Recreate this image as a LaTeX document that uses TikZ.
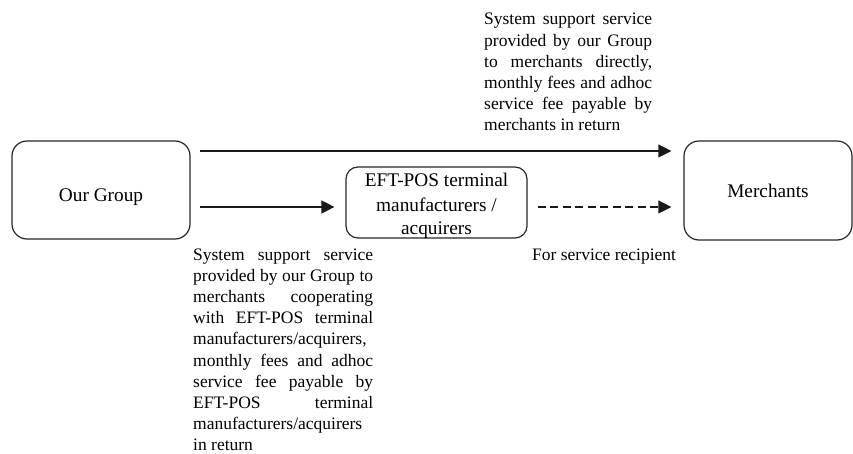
\documentclass[tikz,border=0pt]{standalone}
\usepackage{fontspec}
\setmainfont{Liberation Serif}
\usetikzlibrary{arrows.meta}

\tikzset{
  entity/.style={draw=black!85, line width=1.2pt, rounded corners=15pt,
    minimum width=178pt, minimum height=98pt, inner sep=0pt,
    font=\fontsize{19.3}{24}\selectfont, align=center},
  party/.style={entity, rounded corners=12pt, minimum width=181pt, minimum height=71pt},
  flow/.style={line width=1.2pt, draw=black!90, -{Triangle[length=13pt,width=13pt]}},
  note/.style={inner sep=0pt, font=\fontsize{17.5}{21.2}\selectfont,
    align=justify, anchor=base west},
  caption/.style={inner sep=0pt, font=\fontsize{17.5}{21.2}\selectfont, anchor=base west},
}

\begin{document}
\begin{tikzpicture}[x=1pt, y=-1pt]
  \useasboundingbox (0,0) rectangle (853,454);

  % parties (text height/depth place the baselines inside the boxes)
  \node[entity, text height=24pt, text depth=0pt] (og) at (101,190) {Our Group};
  \node[entity, minimum width=168pt, minimum height=99pt,
        text height=15pt, text depth=0pt] (me) at (768,190.5) {Merchants};
  \node[party, text height=65pt, text depth=0pt] (eft) at (436.5,202.5)
    {EFT-POS terminal\\manufacturers /\\acquirers};

  % rows of the two flows
  \coordinate (rowA) at ([yshift=39pt]og.east);
  \coordinate (rowB) at ([yshift=-17pt]og.east);

  % direct service
  \draw[flow, shorten <=9pt, shorten >=12pt] (rowA) -- (rowA -| me.west);
  % service through terminal manufacturers / acquirers
  \draw[flow, shorten <=9pt, shorten >=11pt] (rowB) -- (rowB -| eft.west);
  \draw[flow, dash pattern=on 8pt off 4.5pt, shorten <=10pt, shorten >=12pt]
    (rowB -| eft.east) -- (rowB -| me.west);

  % explanations
  \node[note, text width=168pt] (topnote) at (484,25)
    {System support service\linebreak
     provided by our Group\linebreak
     to merchants directly,\linebreak
     monthly fees and adhoc\linebreak
     service fee payable by\linebreak
     merchants in return};

  \node[note, text width=180pt] (botnote) at (193,260)
    {System support service\linebreak
     provided by our Group to\linebreak
     merchants cooperating\linebreak
     with EFT-POS terminal\linebreak
     manufacturers/acquirers,\linebreak
     monthly fees and adhoc\linebreak
     service fee payable by\linebreak
     EFT-POS terminal\linebreak
     manufacturers/acquirers\linebreak
     in return};

  \node[caption] (rcpt) at (532,260) {For service recipient};
\end{tikzpicture}
\end{document}
